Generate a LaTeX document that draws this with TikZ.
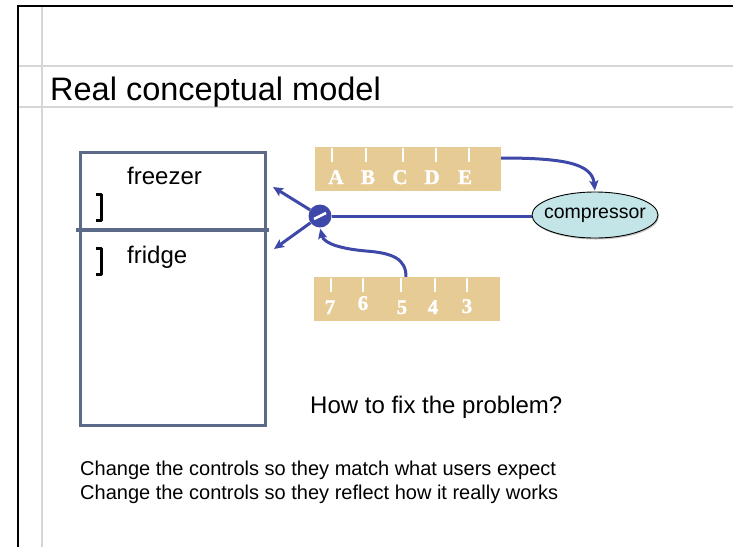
\documentclass[tikz,border=0pt]{standalone}
\usepackage{fontspec}
\setmainfont{Liberation Sans}
\newfontfamily\dialfont{Liberation Serif}[BoldFeatures={FakeBold=1.3}]
\usetikzlibrary{arrows.meta,shapes.geometric,shadows}

\definecolor{ink}{RGB}{62,72,168}
\definecolor{slate}{RGB}{92,106,138}
\definecolor{tan}{RGB}{230,203,149}
\definecolor{ice}{RGB}{195,229,232}
\definecolor{rulegray}{RGB}{214,214,214}

\newcommand{\fsz}[1]{\fontsize{#1}{#1}\selectfont}

\tikzset{
  rulebar/.style={rulegray, line width=1.3},
  framebar/.style={black, line width=2.2},
  scalebox/.style={fill=tan, draw=none, minimum width=186, minimum height=44, inner sep=0},
  tick/.style={white, line width=1.1},
  dialmark/.style={white, inner sep=0, anchor=base, font=\dialfont\bfseries\fsz{21}},
  conn/.style={ink, line width=3},
  head/.style={-{Stealth[length=10pt,width=9pt,inset=2pt]}},
  label/.style={inner sep=0, anchor=base west},
  bracket/.style={black, line width=3, line join=round},
}

\begin{document}
\begin{tikzpicture}[x=1pt,y=-1pt]
\useasboundingbox (0,0) rectangle (733,547);
\fill[white] (0,0) rectangle (733,547);

% slide frame and guide lines
\draw[rulebar] (42,6) -- (42,547);
\draw[rulebar] (18,66) -- (733,66);
\draw[rulebar] (18,107) -- (733,107);
\draw[framebar] (18,547) -- (18,6) -- (733,6);

\node[label, font=\fsz{32.5}] (title) at (50,100) {Real conceptual model};

% refrigerator cabinet
\node[draw=slate, line width=3, minimum width=185, minimum height=273, inner sep=0] (cabinet) at (172.5,288.5) {};
\draw[slate, line width=4.5] (76,230) -- (269,230);
\draw[bracket] (96,194) -- (101,194) -- (101,220) -- (96,220);
\draw[bracket] (96,248) -- (101,248) -- (101,274) -- (96,274);
\node[label, font=\fsz{24}] (freezer) at (127,184) {freezer};
\node[label, font=\fsz{24}] (fridge) at (127,263) {fridge};

% letter dial
\node[scalebox] (dial) at (408,169) {};
\foreach \x in {332,366,403,436,469} \draw[tick] (\x,148) -- (\x,162);
\node[dialmark] (dA) at (336,184) {A};
\node[dialmark] (dB) at (368,184) {B};
\node[dialmark] (dC) at (400,184) {C};
\node[dialmark] (dD) at (432,184) {D};
\node[dialmark] (dE) at (465,184) {E};

% number dial
\node[scalebox] (temp) at (407,299) {};
\foreach \x in {331,363,401,435,467} \draw[tick] (\x,278) -- (\x,292);
\node[dialmark] (n7) at (330,314) {7};
\node[dialmark] (n6) at (363,310) {6};
\node[dialmark] (n5) at (402,314) {5};
\node[dialmark] (n4) at (433,314) {4};
\node[dialmark] (n3) at (467,313) {3};

% compressor
\node[ellipse, draw=black, line width=0.9, fill=ice, inner xsep=-10pt, inner ysep=0pt,
      minimum width=126, minimum height=46,
      drop shadow={shadow xshift=1pt, shadow yshift=-1.5pt, opacity=0.45},
      font=\fsz{19.5}] (comp) at (595,215) {compressor};

% valve knob
\node[circle, fill=ink, minimum size=23, inner sep=0] (knob) at (320,216) {};
\draw[white, line width=2.6] ([shift={(-6,3)}]knob.center) -- ([shift={(6,-3)}]knob.center);

\coordinate (toFreezer) at (273,187);
\coordinate (toFridge) at (274,249);

% connectors
\draw[conn, head] (knob) -- (toFreezer);
\draw[conn, head] (knob) -- (toFridge);
\draw[conn] (knob.east) -- (knob.east -| comp.west);
\draw[conn, head, shorten >=1pt] ([yshift=11pt]dial.east) .. controls (562,158) and (592,163) .. (comp.north);
\draw[conn, head, shorten >=1pt] ([xshift=-1pt]temp.north) .. controls (406,259) and (393,253) .. (366,251)
      .. controls (343,249) and (324,244) .. (knob.south);

% question and options
\node[label, font=\fsz{24}] (question) at (310,413) {How to fix the problem?};
\node[label, font=\fsz{20}] (opt1) at (80,475) {Change the controls so they match what users expect};
\node[label, font=\fsz{20}] (opt2) at (80,499) {Change the controls so they reflect how it really works};
\end{tikzpicture}
\end{document}
